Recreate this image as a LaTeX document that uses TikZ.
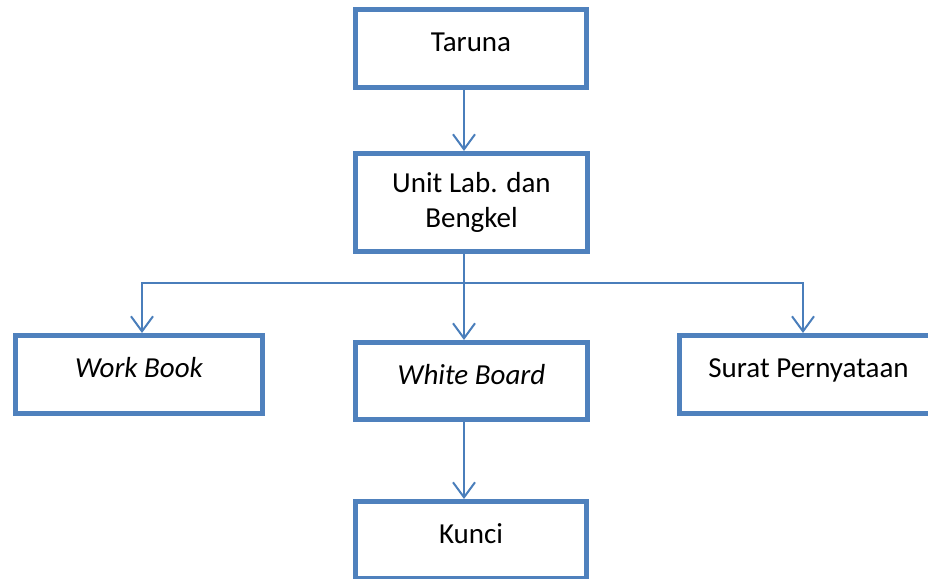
\documentclass[tikz,border=0pt]{standalone}
\usepackage{fontspec}
\setmainfont{Carlito}
\usetikzlibrary{arrows.meta}
\definecolor{boxblue}{HTML}{4F81BD}
\definecolor{lineblue}{HTML}{4A7EBB}
\tikzset{
  box/.style={draw=boxblue, line width=5pt, outer sep=2.5pt, inner sep=0pt,
    font=\fontsize{29}{35.5}\selectfont, align=center},
  oneline/.style={box, text height=20pt, text depth=14pt},
  arr/.style={draw=lineblue, line width=2pt, -{Straight Barb[length=15pt,width=22pt]}},
  plain/.style={draw=lineblue, line width=2pt}
}
\begin{document}
\begin{tikzpicture}[x=1pt,y=-1pt]
\useasboundingbox (0,0) rectangle (928,578);
\node[oneline, minimum width=231pt, minimum height=78pt] (taruna) at (471,48.5) {Taruna};
\node[box, minimum width=232pt, minimum height=98pt] (unit) at (471.5,202.5) {Unit Lab. dan\\Bengkel};
\node[oneline, minimum width=247pt, minimum height=78pt] (workbook) at (139,374.5) {\itshape Work Book};
\node[oneline, minimum width=232pt, minimum height=77pt] (whiteboard) at (471.5,381) {\itshape White Board};
\node[oneline, minimum width=280pt, minimum height=78pt] (surat) at (819.5,374.5) {Surat Pernyataan\hspace*{22pt}};
\node[oneline, minimum width=231pt, minimum height=77pt] (kunci) at (471,540) {Kunci};
\coordinate (j) at (464,283);
\draw[arr] ([xshift=-7pt]taruna.south) -- ([xshift=-7.5pt]unit.north);
\draw[plain] ([xshift=-7.5pt]unit.south) -- (j);
\draw[arr] (j) -| ([xshift=3pt]workbook.north);
\draw[arr] (j) -- ([xshift=-7.5pt]whiteboard.north);
\draw[arr] (j) -| ([xshift=-16.5pt]surat.north);
\draw[arr] ([xshift=-7.5pt]whiteboard.south) -- ([xshift=-7pt]kunci.north);
\end{tikzpicture}
\end{document}
